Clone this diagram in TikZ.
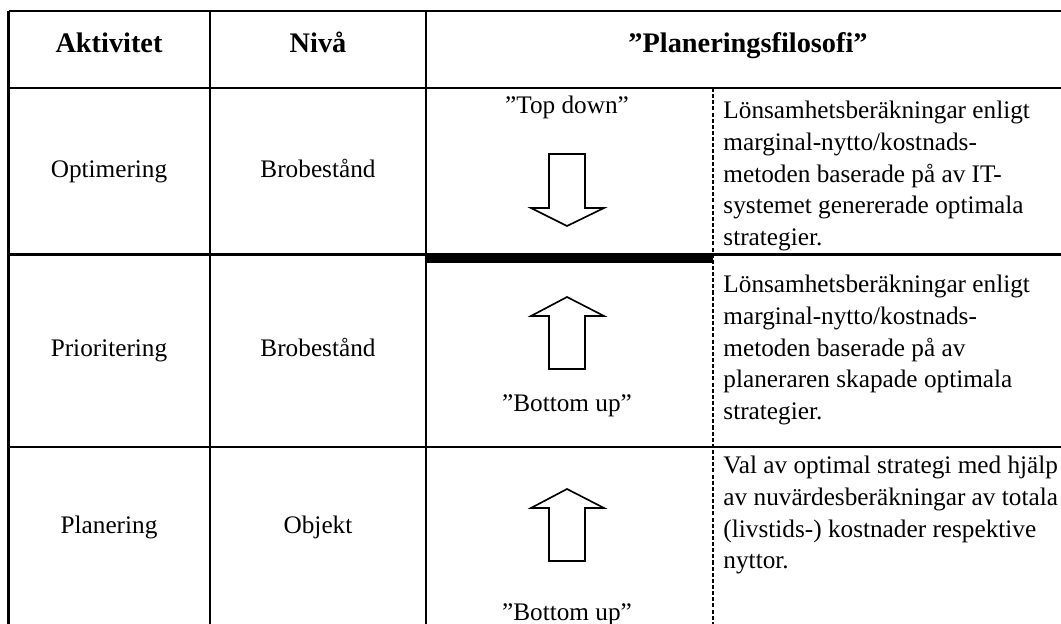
\documentclass[tikz,border=0pt]{standalone}
\usepackage{fontspec}
\setmainfont{Liberation Serif}
\begin{document}
\begin{tikzpicture}[x=0.4237pt,y=-0.4237pt,
  grid/.style={line width=1.15pt},
  sep/.style={line width=0.8pt, dash pattern=on 1.7pt off 0.9pt},
  bar/.style={line width=3.8pt},
  arrowshape/.style={line width=0.7pt, line join=miter},
  head/.style={font=\fontsize{12}{14}\selectfont\bfseries, inner sep=0pt, anchor=base},
  cell/.style={font=\fontsize{10.7}{13.4}\selectfont, inner sep=0pt, anchor=base},
  quote/.style={font=\fontsize{10.7}{13.4}\selectfont, inner sep=0pt, anchor=base},
  para/.style={font=\fontsize{10.7}{13.4}\selectfont, inner sep=0pt, anchor=base west}
]
\useasboundingbox (0,0) rectangle (1061,624);

% grid
\draw[grid] (8.7,11) -- (1061,11);
\draw[grid] (8.7,88) -- (1061,88);
\draw[grid] (8.7,254.7) -- (1061,254.7);
\draw[grid] (8.7,447) -- (1061,447);
\draw[grid] (8.7,11) -- (8.7,624);
\draw[grid] (210,11) -- (210,624);
\draw[grid] (426,11) -- (426,624);
\draw[sep] (713,88) -- (713,624);
\draw[bar] (426,258.5) -- (713,258.5);

% header
\node[head] (hA) at (109,53) {Aktivitet};
\node[head] (hN) at (318,53) {Nivå};
\node[head] (hP) at (748,53) {”Planeringsfilosofi”};

% left cells
\node[cell] (a1) at (109,178) {Optimering};
\node[cell] (n1) at (318,178) {Brobestånd};
\node[cell] (a2) at (109,357) {Prioritering};
\node[cell] (n2) at (318,357) {Brobestånd};
\node[cell] (a3) at (109,534) {Planering};
\node[cell] (n3) at (318,534) {Objekt};

% philosophy labels
\node[quote] (q1) at (567,114) {”Top down”};
\node[quote] (q2) at (567,412) {”Bottom up”};
\node[quote] (q3) at (567,620) {”Bottom up”};

% arrows
\draw[arrowshape] (549,154) -- (585,154) -- (585,208) -- (604,208) -- (567,226) -- (531,208) -- (549,208) -- cycle;
\draw[arrowshape] (567,297) -- (604,316) -- (585,316) -- (585,369) -- (549,369) -- (549,316) -- (531,316) -- cycle;
\draw[arrowshape] (567,489) -- (604,508) -- (585,508) -- (585,561) -- (549,561) -- (549,508) -- (531,508) -- cycle;

% descriptions
\node[para] (d1) at (723,119) {\begin{tabular}[t]{@{}l@{}}Lönsamhetsberäkningar enligt\\ marginal-nytto/kostnads-\\ metoden baserade på av IT-\\ systemet genererade optimala\\ strategier.\end{tabular}};
\node[para] (d2) at (723,293) {\begin{tabular}[t]{@{}l@{}}Lönsamhetsberäkningar enligt\\ marginal-nytto/kostnads-\\ metoden baserade på av\\ planeraren skapade optimala\\ strategier.\end{tabular}};
\node[para] (d3) at (723,474) {\begin{tabular}[t]{@{}l@{}}Val av optimal strategi med hjälp\\ av nuvärdesberäkningar av totala\\ (livstids-) kostnader respektive\\ nyttor.\end{tabular}};
\end{tikzpicture}
\end{document}
